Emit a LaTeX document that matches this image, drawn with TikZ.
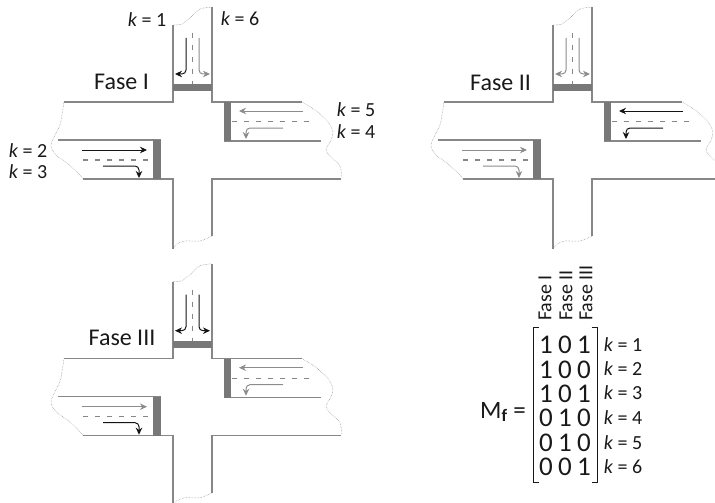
\documentclass[tikz,border=0pt]{standalone}
\usepackage{fontspec}
\setmainfont{Carlito}
\usetikzlibrary{matrix,arrows.meta}
\definecolor{road}{gray}{0.53}
\definecolor{signal}{gray}{0.47}
\definecolor{tekst}{gray}{0.1}
\definecolor{aan}{gray}{0.08}
\definecolor{uit}{gray}{0.55}
\newcommand{\fs}[1]{\fontsize{#1}{#1}\selectfont}
\tikzset{
	flowon/.style={aan},
	flowoff/.style={uit},
	edge/.style={road,line width=1.1pt},
	wave/.style={road,line width=0.5pt,densely dotted},
	lane/.style={road,line width=1.1pt,dash pattern=on 5pt off 7pt},
	bar/.style={signal,draw=none},
	flow/.style={->,line width=1pt,rounded corners=4pt},
	fase/.style={tekst,font=\fs{24},inner sep=0pt},
	klabel/.style={tekst,font=\fs{20},inner sep=0pt},
	kside/.style={tekst,font=\fs{20},inner sep=0pt},
	fasetop/.style={tekst,font=\fs{20},inner sep=0pt,rotate=90,anchor=west},
	junction/.pic={
		% outline of the crossing
		\draw [edge] (173,25) -- (173,102) -- (64,102);
		\draw [edge] (212,7) -- (212,102) -- (302,102);
		\draw [edge] (83,179) -- (173,179) -- (173,249);
		\draw [edge] (212,236) -- (212,179) -- (341,179);
		\draw [edge] (58,140) -- (161,140);
		\draw [edge] (224,141) -- (321,141);
		% cut ends
		\draw [wave] plot [smooth] coordinates {(173,25) (182,24) (192,16) (200,9) (212,7)};
		\draw [wave] plot [smooth] coordinates {(173,249) (177,244) (185,241) (200,241) (212,236)};
		\draw [wave] plot [smooth] coordinates {(64,102) (62,115) (60,125) (54,137) (51,146) (56,155) (67,163) (77,172) (83,179)};
		\draw [wave] plot [smooth] coordinates {(302,102) (315,110) (328,122) (333,132) (331,140) (326,150) (332,158) (340,166) (342,178)};
		% stop lines
		\fill [bar] (173,84) rectangle (212,91);
		\fill [bar] (153,140) rectangle (161,179);
		\fill [bar] (224,102) rectangle (231,141);
		% lane markings
		\draw [lane] (192.5,33) -- (192.5,84);
		\draw [lane] (83,160) -- (151,160);
		\draw [lane] (232,121.5) -- (315,121.5);
		% movements
		\draw [flow,k1] (186,38) -- (186,74) -- (175,74);
		\draw [flow,k6] (199,38) -- (199,74) -- (210,74);
		\draw [flow,k2] (82,150) -- (147,150);
		\draw [flow,k3] (103,166) -- (139,166) -- (139,178);
		\draw [flow,k5] (303,111) -- (239,111);
		\draw [flow,k4] (283,128) -- (246,128) -- (246,139);
	}
}
\begin{document}
\begin{tikzpicture}
	[x=1pt,y=-1pt,>={Stealth[length=7pt,width=6.5pt]}]
	\useasboundingbox (0,0) rectangle (715,503);
	\clip (0,0) rectangle (715,503);
	\pic [k1/.style=flowon,k2/.style=flowon,k3/.style=flowon,k4/.style=flowoff,k5/.style=flowoff,k6/.style=flowoff] at (0,0) {junction};
	\pic [k1/.style=flowoff,k2/.style=flowoff,k3/.style=flowoff,k4/.style=flowon,k5/.style=flowon,k6/.style=flowoff] at (380,0) {junction};
	\pic [k1/.style=flowon,k2/.style=flowoff,k3/.style=flowon,k4/.style=flowoff,k5/.style=flowoff,k6/.style=flowon] at (0,256.7) {junction};
	\node at (121.5,82) [fase] (faseI) {Fase I};
	\node at (500.5,83) [fase] (faseII) {Fase II};
	\node at (122,338) [fase] (faseIII) {Fase III};
	\node at (147,20) [klabel] (kone) {\textit{k} = 1};
	\node at (240,19) [klabel] (ksix) {\textit{k} = 6};
	\node at (356,110) [klabel] (kfive) {\textit{k} = 5};
	\node at (356,132) [klabel] (kfour) {\textit{k} = 4};
	\node at (28,151) [klabel] (ktwo) {\textit{k} = 2};
	\node at (28,172) [klabel] (kthree) {\textit{k} = 3};
	\node at (503,412) [tekst,font=\fs{25},inner sep=0pt] (mf) {M\textsubscript{\textbf{f}} =};
	\matrix (mat) at (565,406) [matrix of nodes,tekst,
		nodes={font=\fs{27},inner sep=0pt,minimum width=19pt,minimum height=24.4pt}] {
		1 & 0 & 1 \\
		1 & 0 & 0 \\
		1 & 0 & 1 \\
		0 & 1 & 0 \\
		0 & 1 & 0 \\
		0 & 0 & 1 \\
	};
	\draw [tekst,line width=0.9pt] (539,327) -| (533,482) -- (539,482);
	\draw [tekst,line width=0.9pt] (591.5,327) -| (597.5,482) -- (591.5,482);
	\node at (623,345) [kside] (mkone) {\textit{k} = 1};
	\node at (623,369) [kside] (mktwo) {\textit{k} = 2};
	\node at (623,393) [kside] (mkthree) {\textit{k} = 3};
	\node at (623,418) [kside] (mkfour) {\textit{k} = 4};
	\node at (623,443) [kside] (mkfive) {\textit{k} = 5};
	\node at (623,467) [kside] (mksix) {\textit{k} = 6};
	\node at (545,321) [fasetop] (topI) {Fase I};
	\node at (566,321) [fasetop] (topII) {Fase II};
	\node at (586,321) [fasetop] (topIII) {Fase III};
\end{tikzpicture}
\end{document}
